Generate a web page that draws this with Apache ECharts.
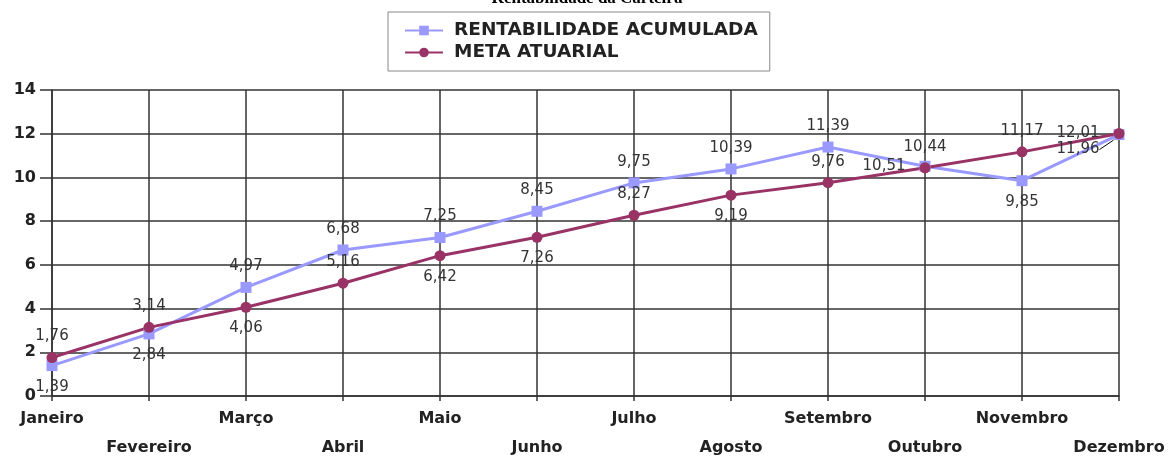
<!DOCTYPE html>
<html>
<head>
<meta charset="utf-8">
<script src="https://cdn.jsdelivr.net/npm/echarts@6/dist/echarts.min.js"></script>
<style>html,body{margin:0;padding:0;background:#fff}#c{width:1174px;height:458px}</style>
</head>
<body>
<div id="c"></div>
<script>
var titleText = 'Rentabilidade da Carteira';
var months = ['Janeiro','Fevereiro','Março','Abril','Maio','Junho','Julho','Agosto','Setembro','Outubro','Novembro','Dezembro'];
var seriesNames = ['RENTABILIDADE ACUMULADA','META ATUARIAL'];
var rentabilidade = [1.39, 2.84, 4.97, 6.68, 7.25, 8.45, 9.75, 10.39, 11.39, 10.51, 9.85, 11.96];
var meta = [1.76, 3.14, 4.06, 5.16, 6.42, 7.26, 8.27, 9.19, 9.76, 10.44, 11.17, 12.01];
var yTicks = [0, 2, 4, 6, 8, 10, 12, 14];

// label placement (style, separate from data)
var posRent = ['bottom','bottom','top','top','top','top','top','top','top','left','bottom','left'];
var posMeta = ['top','top','bottom','top','bottom','bottom','top','bottom','top','top','top','left'];
var guideRent = 11; // index of the label drawn with a leader line

function fmt(v){ return String(v.toFixed(2)).replace('.', ','); }
function build(vals, pos, guideIdx){
  return vals.map(function(v,i){
    var item = {value: v, label: {position: pos[i], distance: pos[i]==='left' ? 14 : 8}};
    item.labelLine = {show: i === guideIdx};
    return item;
  });
}

var chart = echarts.init(document.getElementById('c'), null, {renderer:'canvas'});
var labelFont = 'DejaVu Sans';
var gridColor = '#333';
chart.setOption({
  animation: false,
  title: {
    text: titleText, left: 'center', top: -15,
    textStyle: {fontFamily: 'Liberation Serif', fontWeight: 'bold', fontSize: 17, color: '#000'}
  },
  legend: {
    data: seriesNames, orient: 'vertical', left: 388, top: 12,
    padding: [9, 12, 9, 16], itemGap: 3, itemWidth: 38, itemHeight: 12,
    borderColor: '#888', borderWidth: 1,
    textStyle: {fontFamily: labelFont, fontWeight: 'bold', fontSize: 18.5, color: '#222', padding: [0, 0, 0, 6]}
  },
  grid: {left: 52, right: 55, top: 90, bottom: 62, outerBoundsMode: 'none', containLabel: false},
  xAxis: {
    type: 'category', data: months, boundaryGap: false,
    axisLine: {lineStyle: {color: gridColor, width: 1.5}},
    axisTick: {show: true, length: 5, alignWithLabel: true, lineStyle: {color: gridColor, width: 1.5}},
    splitLine: {show: true, lineStyle: {color: gridColor, width: 1.5}},
    axisLabel: {
      interval: 0, margin: 8, lineHeight: 29,
      fontFamily: labelFont, fontWeight: 'bold', fontSize: 16, color: '#222',
      formatter: function(v, i){ return i % 2 ? '\n' + v : v; }
    }
  },
  yAxis: {
    type: 'value', min: yTicks[0], max: yTicks[yTicks.length-1], interval: 2,
    axisLine: {show: true, lineStyle: {color: gridColor, width: 1.5}},
    axisTick: {show: true, length: 12, lineStyle: {color: gridColor, width: 1.5}},
    splitLine: {show: true, lineStyle: {color: gridColor, width: 1.5}},
    axisLabel: {margin: 16, fontFamily: labelFont, fontWeight: 'bold', fontSize: 16, color: '#222'}
  },
  series: [
    {
      name: seriesNames[0], type: 'line', data: build(rentabilidade, posRent, guideRent),
      symbol: 'rect', symbolSize: 11,
      lineStyle: {color: '#9999ff', width: 3}, itemStyle: {color: '#9999ff'},
      label: {show: true, fontFamily: labelFont, fontSize: 15, color: '#333',
        formatter: function(p){ return fmt(p.value); }},
      labelLayout: function(p){
        if (p.dataIndex === guideRent) return {dx: 0, dy: 15};
        return {};
      },
      labelLine: {show: false, lineStyle: {color: '#000', width: 1}}
    },
    {
      name: seriesNames[1], type: 'line', data: build(meta, posMeta, -1),
      symbol: 'circle', symbolSize: 11,
      lineStyle: {color: '#993366', width: 3}, itemStyle: {color: '#993366'},
      label: {show: true, fontFamily: labelFont, fontSize: 15, color: '#333',
        formatter: function(p){ return fmt(p.value); }}
    }
  ]
});
</script>
</body>
</html>
